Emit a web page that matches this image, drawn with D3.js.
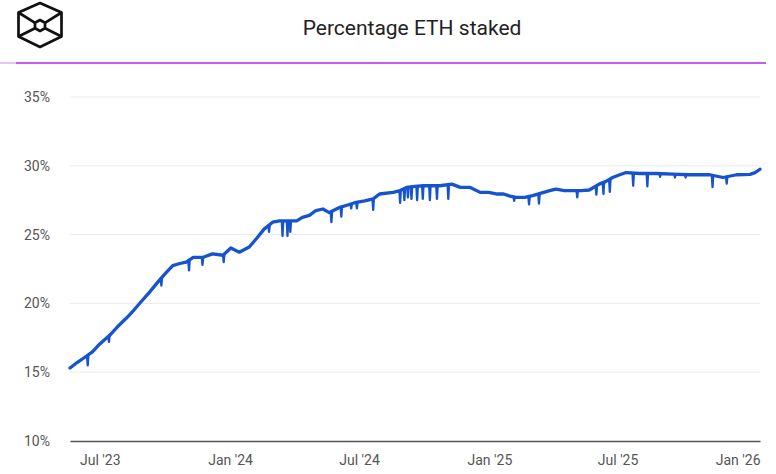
<!DOCTYPE html>
<html>
<head>
<meta charset="utf-8">
<script src="https://cdn.jsdelivr.net/npm/d3@7"></script>
<style>
  html, body { margin: 0; padding: 0; background: #fff; }
  svg { display: block; font-family: Roboto, "Noto Sans", Arial, sans-serif; }
</style>
</head>
<body>
<svg id="chart" width="776" height="474"></svg>
<script>
// ---- Data (percentage of ETH supply staked) ----
const baseDates = [
  "2023-05-20","2023-05-30","2023-06-12","2023-06-21","2023-07-01","2023-07-15","2023-07-26",
  "2023-08-07","2023-08-18","2023-08-28","2023-09-09","2023-09-23","2023-10-03","2023-10-12",
  "2023-10-22","2023-10-31","2023-11-10","2023-11-24","2023-12-07","2023-12-22","2024-01-02",
  "2024-01-14","2024-01-28","2024-02-07","2024-02-18","2024-03-01","2024-03-11","2024-03-22",
  "2024-04-04","2024-04-12","2024-04-22","2024-05-01","2024-05-11","2024-05-20","2024-06-04",
  "2024-06-15","2024-06-27","2024-07-09","2024-07-21","2024-07-30","2024-08-18","2024-08-28",
  "2024-09-06","2024-09-18","2024-09-30","2024-10-23","2024-11-09","2024-11-21","2024-12-05",
  "2024-12-19","2024-12-31","2025-01-12","2025-01-21","2025-01-30","2025-02-08","2025-02-20",
  "2025-03-03","2025-03-14","2025-03-27","2025-04-05","2025-04-17","2025-04-29","2025-05-11",
  "2025-05-22","2025-06-05","2025-06-14","2025-06-24","2025-07-04","2025-07-13","2025-08-01",
  "2025-08-25","2025-09-17","2025-10-10","2025-11-08","2025-11-27","2025-12-16","2026-01-04",
  "2026-01-11","2026-01-18"
];
const baseValues = [
  15.30,15.70,16.16,16.50,17.05,17.68,18.30,
  18.90,19.50,20.10,20.80,21.67,22.25,22.75,
  22.90,23.00,23.35,23.35,23.60,23.50,24.03,
  23.72,24.10,24.70,25.40,25.90,26.00,26.00,
  26.00,26.25,26.40,26.75,26.86,26.60,26.98,
  27.15,27.35,27.45,27.60,27.95,28.07,28.20,
  28.43,28.50,28.55,28.55,28.67,28.43,28.43,
  28.07,28.07,27.95,27.95,27.80,27.70,27.70,
  27.83,28.00,28.19,28.30,28.20,28.19,28.20,
  28.24,28.67,28.85,29.15,29.35,29.51,29.44,
  29.44,29.40,29.35,29.35,29.15,29.35,29.38,
  29.50,29.75
];
// Short single-day dips
const dipDates = [
  "2023-06-14","2023-07-14","2023-09-26","2023-11-04","2023-11-23","2023-12-23",
  "2024-02-25","2024-03-15","2024-03-22","2024-03-26","2024-05-23","2024-06-06",
  "2024-06-20","2024-06-28","2024-07-21","2024-08-28","2024-09-03","2024-09-08",
  "2024-09-13","2024-09-21","2024-09-29","2024-10-09","2024-10-19","2024-11-04",
  "2025-02-05","2025-02-26","2025-03-12","2025-05-05","2025-06-01","2025-06-11",
  "2025-06-20","2025-07-23","2025-08-12","2025-08-30","2025-09-20","2025-10-05",
  "2025-11-12","2025-12-02"
];
const dipValues = [
  15.50,17.20,21.30,22.40,22.80,23.00,
  25.20,24.90,24.90,25.20,25.90,26.30,
  26.90,26.90,26.80,27.30,27.50,27.70,
  27.60,27.50,27.60,27.50,27.60,27.60,
  27.45,27.20,27.25,27.70,27.90,27.95,
  28.10,28.55,28.50,29.20,29.15,29.15,
  28.45,28.70
];
const yTicks = [10, 15, 20, 25, 30, 35];
const xTickDates = ["2023-07-01","2024-01-01","2024-07-01","2025-01-01","2025-07-01","2026-01-01"];
const xTickLabels = ["Jul '23","Jan '24","Jul '24","Jan '25","Jul '25","Jan '26"];
const titleText = "Percentage ETH staked";

// ---- Setup ----
const parse = d3.utcParse("%Y-%m-%d");
const base = baseDates.map((d, i) => ({ date: parse(d), value: baseValues[i] }));
const dips = dipDates.map((d, i) => ({ date: parse(d), value: dipValues[i] }));

const svg = d3.select("#chart");
const plotL = 70, plotR = 760, plotT = 97, plotB = 441;

const x = d3.scaleUtc()
  .domain([parse("2023-05-20"), parse("2026-01-18")])
  .range([plotL, plotR]);
const y = d3.scaleLinear().domain([10, 35]).range([plotB, plotT]);

// Logo
const logo = svg.append("g").attr("fill", "none").attr("stroke", "#111")
  .attr("stroke-width", 2.7).attr("stroke-linejoin", "round");
const outer = [[40,3],[61.5,12.5],[61.5,36.5],[40,47],[18.5,36.5],[18.5,12.5]];
logo.append("polygon").attr("points", outer.map(p => p.join(",")).join(" "));
const inner = [[40,20],[45,22.8],[45,28.2],[40,31],[35,28.2],[35,22.8]];
logo.append("polygon").attr("points", inner.map(p => p.join(",")).join(" "));
[[[18.5,12.5],[35,22.8]],[[61.5,12.5],[45,22.8]],[[18.5,36.5],[35,28.2]],[[61.5,36.5],[45,28.2]]].forEach(s => {
  logo.append("line").attr("x1", s[0][0]).attr("y1", s[0][1]).attr("x2", s[1][0]).attr("y2", s[1][1]);
});

// Title
svg.append("text").attr("x", 412).attr("y", 35).attr("text-anchor", "middle")
  .attr("font-size", 21).attr("fill", "#222").text(titleText);

// Purple separator
svg.append("line").attr("x1", 0).attr("x2", 16).attr("y1", 63).attr("y2", 63)
  .attr("stroke", "#e6c6f5").attr("stroke-width", 2);
svg.append("line").attr("x1", 16).attr("x2", 766).attr("y1", 63).attr("y2", 63)
  .attr("stroke", "#c35ef0").attr("stroke-width", 2);

// Gridlines
svg.append("g").selectAll("line").data(yTicks.filter(t => t > 10)).join("line")
  .attr("x1", plotL).attr("x2", plotR)
  .attr("y1", d => y(d)).attr("y2", d => y(d))
  .attr("stroke", "#ebebeb").attr("stroke-width", 1);

// Y axis labels
const yAxis = svg.append("g").attr("transform", `translate(${plotL},0)`)
  .call(d3.axisLeft(y).tickValues(yTicks).tickSize(0).tickPadding(20).tickFormat(d => d + "%"));
yAxis.select(".domain").remove();
yAxis.selectAll("text").attr("font-size", 14).attr("fill", "#555").attr("font-family", "Roboto, sans-serif");

// X axis
const xAxis = svg.append("g").attr("transform", `translate(0,${plotB})`)
  .call(d3.axisBottom(x).tickValues(xTickDates.map(parse)).tickSize(0).tickPadding(14)
    .tickFormat((d, i) => xTickLabels[i]));
xAxis.select(".domain").attr("stroke", "#555").attr("stroke-width", 1.5);
xAxis.selectAll("text").attr("font-size", 14).attr("fill", "#555").attr("font-family", "Roboto, sans-serif");
const lastTick = xAxis.selectAll(".tick").filter((d, i, n) => i === n.length - 1);
lastTick.select("text").attr("text-anchor", "end")
  .attr("x", d => plotR - x(d));

// Main line
const line = d3.line().x(d => x(d.date)).y(d => y(d.value)).curve(d3.curveLinear);
svg.append("path").datum(base).attr("d", line)
  .attr("fill", "none").attr("stroke", "#1553cf").attr("stroke-width", 3.3)
  .attr("stroke-linejoin", "round").attr("stroke-linecap", "round");

// Dips: narrow V from the line down to the dip value
const bis = d3.bisector(d => d.date).left;
function baseAt(t) {
  const i = Math.max(1, Math.min(base.length - 1, bis(base, t)));
  const a = base[i - 1], b = base[i];
  const f = (t - a.date) / (b.date - a.date);
  return a.value + (b.value - a.value) * f;
}
const day = 86400000;
dips.forEach(dp => {
  const t0 = new Date(+dp.date - day), t1 = new Date(+dp.date + day);
  const pts = [
    { date: t0, value: baseAt(t0) },
    { date: dp.date, value: dp.value },
    { date: t1, value: baseAt(t1) }
  ];
  svg.append("path").datum(pts).attr("d", line)
    .attr("fill", "none").attr("stroke", "#1553cf").attr("stroke-width", 2.3)
    .attr("stroke-linejoin", "round");
});
</script>
</body>
</html>
